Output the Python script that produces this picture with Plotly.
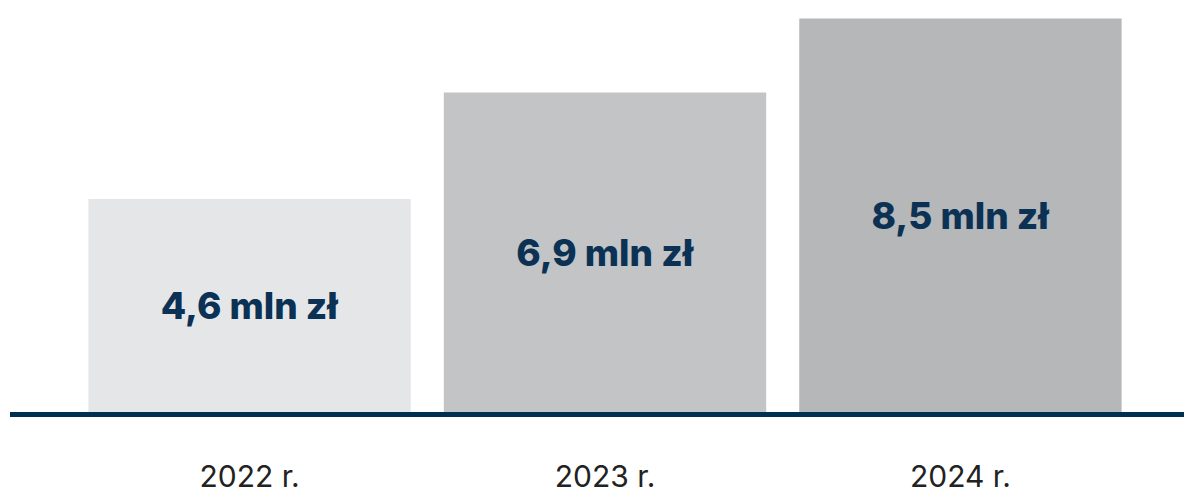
import plotly.graph_objects as go

categories = ["2022 r.", "2023 r.", "2024 r."]
values = [4.6, 6.9, 8.5]
labels = ["4,6 mln zł", "6,9 mln zł", "8,5 mln zł"]
bar_colors = ["#E5E6E8", "#C3C4C6", "#B6B7B9"]

navy = "#00304F"

fig = go.Figure(
    go.Bar(
        x=categories,
        y=values,
        text=labels,
        textposition="inside",
        insidetextanchor="middle",
        textangle=0,
        textfont=dict(family="Inter", size=37, color="#0B3254", weight=800),
        marker=dict(color=bar_colors, line=dict(width=0)),
        hoverinfo="skip",
    )
)

fig.update_layout(
    width=1184,
    height=493,
    margin=dict(l=10, r=0, t=0, b=81, autoexpand=False),
    paper_bgcolor="white",
    plot_bgcolor="white",
    bargap=0.093,
    showlegend=False,
    uniformtext=dict(mode=False),
)

fig.update_xaxes(
    range=[-0.674, 2.629],
    automargin=False,
    showline=True,
    linecolor=navy,
    linewidth=5,
    showgrid=False,
    zeroline=False,
    ticks="outside",
    ticklen=34,
    tickcolor="rgba(0,0,0,0)",
    tickfont=dict(family="Inter", size=30, color="#222222"),
)
fig.update_yaxes(
    range=[0, 8.9],
    automargin=False,
    visible=False,
    showgrid=False,
    zeroline=False,
)

fig.write_html(
    "out.html",
    config={"displayModeBar": False},
    post_script="document.body.style.margin='0';document.body.style.overflow='hidden';",
)
